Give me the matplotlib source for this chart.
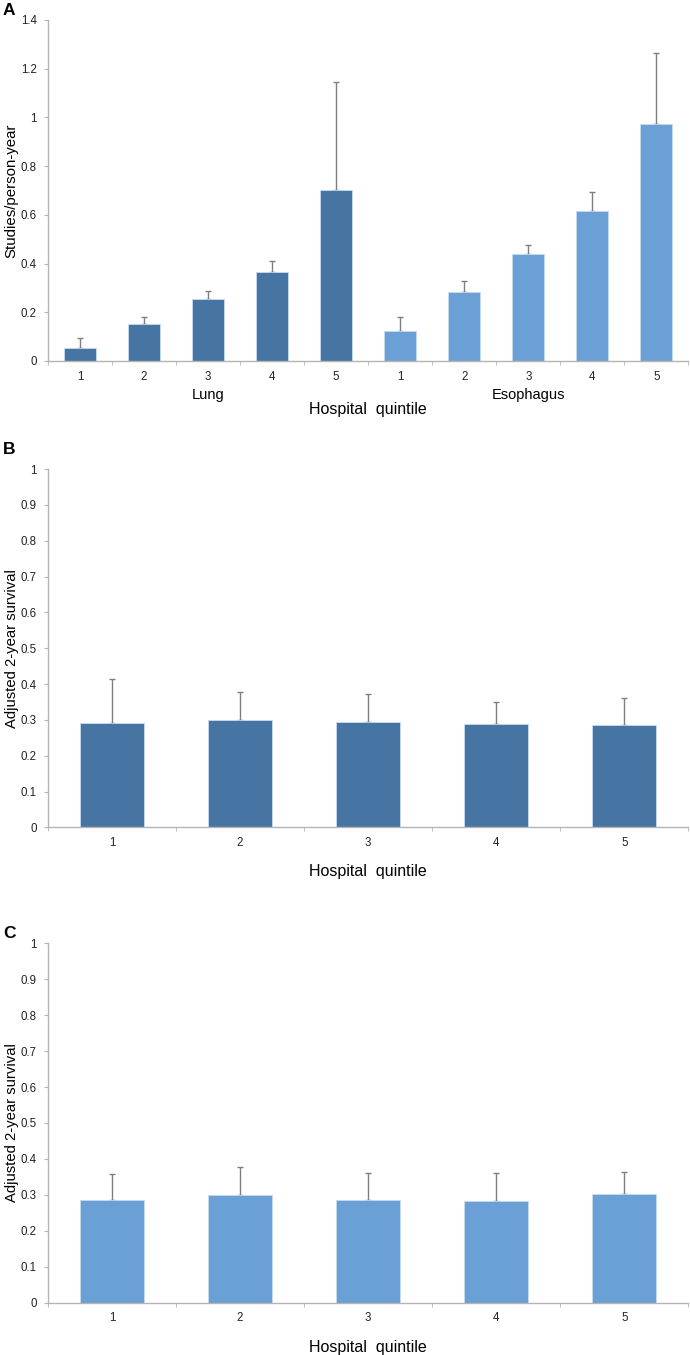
import numpy as np
import matplotlib
matplotlib.use('Agg')
import matplotlib.pyplot as plt

plt.rcParams['font.family'] = ['Liberation Sans', 'DejaVu Sans']

# panel A data (studies per person-year), bar heights and upper error ends
lung_vals = [0.052, 0.153, 0.253, 0.367, 0.701]
lung_upper = [0.093, 0.179, 0.286, 0.409, 1.145]
eso_vals = [0.123, 0.282, 0.439, 0.614, 0.974]
eso_upper = [0.179, 0.330, 0.477, 0.695, 1.263]

# panel B (lung) and C (esophagus) adjusted 2-year survival
surv_lung = [0.291, 0.300, 0.295, 0.288, 0.287]
surv_lung_upper = [0.413, 0.377, 0.371, 0.351, 0.361]
surv_eso = [0.285, 0.299, 0.285, 0.284, 0.303]
surv_eso_upper = [0.357, 0.378, 0.360, 0.360, 0.363]

quintiles = ['1', '2', '3', '4', '5']

DARK = '#4674a3'
LIGHT = '#6aa0d5'
AXC = '#b4b4b4'
ERRC = '#7f7f7f'
TICKFS = 8.3


def style_axis(ax, n, ymax, ystep, fmt):
    ax.set_xlim(-0.5, n - 0.5)
    ax.set_ylim(0, ymax)
    for s in ['top', 'right']:
        ax.spines[s].set_visible(False)
    for s in ['left', 'bottom']:
        ax.spines[s].set_color(AXC)
        ax.spines[s].set_linewidth(1.0)
    yt = np.arange(0, ymax + 1e-9, ystep)
    ax.set_yticks(yt)
    ax.set_yticklabels([fmt(v) for v in yt], fontsize=TICKFS, color='#222222')
    ax.set_xticks(np.arange(n))
    ax.set_xticks(np.arange(n + 1) - 0.5, minor=True)
    ax.tick_params(axis='x', which='major', length=0, pad=7)
    ax.tick_params(axis='x', which='minor', length=3, color=AXC, direction='out')
    ax.tick_params(axis='y', length=3, color=AXC, direction='out', pad=5)


def draw_bars(ax, x, vals, upper, color):
    vals = np.array(vals)
    err = np.array(upper) - vals
    ax.bar(x, vals, width=0.5, color=color, edgecolor='#c8dcf0', linewidth=0.6, zorder=2)
    ax.errorbar(x, vals, yerr=[np.zeros_like(err), err], fmt='none',
                ecolor=ERRC, elinewidth=1.0, capsize=2.5, capthick=1.0, zorder=1)


def fmt_a(v):
    v = round(v, 1)
    return '0' if v == 0 else ('1' if v == 1 else f'{v:g}')


fig = plt.figure(figsize=(6.9, 13.55), dpi=100)

# ---- panel A
axA = fig.add_axes([0.0696, 0.7336, 0.928, 0.2517])
xa = np.arange(10)
draw_bars(axA, xa[:5], lung_vals, lung_upper, DARK)
draw_bars(axA, xa[5:], eso_vals, eso_upper, LIGHT)
style_axis(axA, 10, 1.4, 0.2, fmt_a)
axA.set_xticklabels(quintiles + quintiles, fontsize=TICKFS, color='#222222')
axA.set_ylabel('Studies/person-year', fontsize=10.8)
axA.yaxis.set_label_coords(-0.046, 0.5)
axA.text(2, -0.14, 'Lung', ha='center', va='center', fontsize=10.5)
axA.text(7, -0.14, 'Esophagus', ha='center', va='center', fontsize=10.5)
axA.text(4.5, -0.2, 'Hospital  quintile', ha='center', va='center', fontsize=11.5)
fig.text(0.004, 0.9925, 'A', fontsize=12.5, fontweight='bold', va='center')

# ---- panel B
axB = fig.add_axes([0.0696, 0.3894, 0.928, 0.2644])
xb = np.arange(5)
draw_bars(axB, xb, surv_lung, surv_lung_upper, DARK)
style_axis(axB, 5, 1.0, 0.1, fmt_a)
axB.set_xticklabels(quintiles, fontsize=TICKFS, color='#222222')
axB.set_ylabel('Adjusted 2-year survival', fontsize=10.7)
axB.yaxis.set_label_coords(-0.046, 0.5)
axB.set_xlabel('Hospital  quintile', fontsize=11.5, labelpad=11)
fig.text(0.004, 1 - 450 / 1355, 'B', fontsize=12.5, fontweight='bold', va='center')

# ---- panel C
axC = fig.add_axes([0.0696, 0.0386, 0.928, 0.2653])
draw_bars(axC, xb, surv_eso, surv_eso_upper, LIGHT)
style_axis(axC, 5, 1.0, 0.1, fmt_a)
axC.set_xticklabels(quintiles, fontsize=TICKFS, color='#222222')
axC.set_ylabel('Adjusted 2-year survival', fontsize=10.7)
axC.yaxis.set_label_coords(-0.046, 0.5)
axC.set_xlabel('Hospital  quintile', fontsize=11.5, labelpad=11)
fig.text(0.004, 1 - 934 / 1355, 'C', fontsize=12.5, fontweight='bold', va='center')

fig.savefig('out.png', dpi=100)
